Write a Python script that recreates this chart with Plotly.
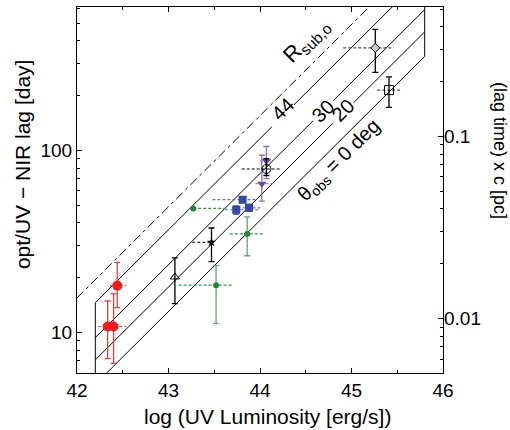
import plotly.graph_objects as go
import numpy as np

# ---------------- data ----------------
# model lines: endpoints (log L, lag in days)
model_x = [42.2, 45.8]
lag_44 = [14.6, 921.0]
lag_30 = [9.39, 592.0]
lag_20 = [7.08, 447.0]
lag_0 = [5.2, 328.0]
rsub_x = [42.0, 46.0]
lag_rsub = [15.5, 1550.0]

# observed points: x, y, y_upper, y_lower, x_low, x_high
red_x = [42.44, 42.335, 42.40]
red_y = [18.1, 10.8, 10.8]
red_up = [24.3, 14.9, 16.3]
red_lo = [13.7, 7.2, 6.77]
red_xlo = [42.36, 42.23, 42.30]
red_xhi = [42.54, 42.45, 42.54]

green_x = [43.27, 43.86, 43.52]
green_y = [48.0, 34.8, 18.2]
green_up = [48.0, 43.2, 23.3]
green_lo = [48.0, 26.4, 11.2]
green_xlo = [43.27, 43.67, 43.11]
green_xhi = [43.65, 44.04, 43.71]

tri_x = [43.07]
tri_y = [20.2]
tri_up = [25.7]
tri_lo = [14.4]

star_x = [43.47]
star_y = [31.3]
star_up = [37.5]
star_lo = [24.5]
star_xlo = [43.26]
star_xhi = [43.47]

blue_x = [43.81, 43.74, 43.88]
blue_y = [53.6, 47.2, 48.4]
blue_up = [55.5, 49.5, 50.5]
blue_lo = [51.5, 44.6, 46.3]
blue_xlo = [43.48, 43.62, 43.70]
blue_xhi = [43.97, 43.99, 44.00]

purple_x = [44.07, 44.02]
purple_y = [87.3, 65.6]
purple_up = [105.0, 94.0]
purple_lo = [70.0, 52.6]
purple_xlo = [44.00, 43.95]
purple_xhi = [44.12, 44.14]

circ_x = [44.07]
circ_y = [79.0]
circ_up = [90.0]
circ_lo = [72.8]
circ_xlo = [43.80]
circ_xhi = [44.24]

diam_x = [45.26]
diam_y = [365.0]
diam_up = [461.0]
diam_lo = [268.0]
diam_xlo = [44.91]
diam_xhi = [45.46]

sq_x = [45.41]
sq_y = [214.0]
sq_up = [253.0]
sq_lo = [172.0]
sq_xlo = [45.28]
sq_xhi = [45.55]

x_ticks = [42, 43, 44, 45, 46]
y_ticks = [10, 100]
pc_ticks = [0.01, 0.1]
DAY_TO_PC = 8.39e-4

# labels on the model lines
label_text = ["R<sub>sub,o</sub>", "44", "30", "20", "θ<sub>obs</sub> = 0 deg"]
label_x = [44.51, 44.25, 44.69, 44.91, 44.87]
label_logy = [2.60, 2.225, 2.215, 2.22, 1.945]
label_size = [22, 20, 20, 20, 20]
# half-width (in log L) of the line gap left around the angle labels
gap_half = [0.12, 0.11, 0.11]

FONT = "Liberation Sans, Arial, Helvetica, sans-serif"

fig = go.Figure()


def line_trace(xs, ys, dash="solid"):
    fig.add_trace(go.Scatter(x=xs, y=ys, mode="lines",
                             line=dict(color="black", width=1, dash=dash),
                             showlegend=False, hoverinfo="skip"))


def lag_at(xv, ends):
    # position on a straight model line in log-log space
    f = (xv - model_x[0]) / (model_x[1] - model_x[0])
    return ends[0] * (ends[1] / ends[0]) ** f


# R_sub,o dash-dot line
line_trace(rsub_x, lag_rsub, dash="9px,4px,3px,4px")
# 0 deg line (continuous)
line_trace(model_x, lag_0)
# left / right closing edges
line_trace([model_x[0], model_x[0]], [lag_0[0], lag_44[0]])
line_trace([model_x[1], model_x[1]], [lag_0[1], lag_44[1]])
# inclined-angle lines with a gap at their label
for ends, lx, g in zip((lag_44, lag_30, lag_20), label_x[1:4], gap_half):
    a, b = lx - g, lx + g
    xs = [model_x[0], a, None, b, model_x[1]]
    ys = [ends[0], lag_at(a, ends), None, lag_at(b, ends), ends[1]]
    line_trace(xs, ys)


def xerr_lines(xlo, xhi, y, color):
    xs, ys = [], []
    for a, b, c in zip(xlo, xhi, y):
        xs += [a, b, None]
        ys += [c, c, None]
    fig.add_trace(go.Scatter(x=xs, y=ys, mode="lines",
                             line=dict(color=color, width=1.2, dash="3px,2px"),
                             showlegend=False, hoverinfo="skip"))


def group(x, y, up, lo, marker, barcolor, xlo=None, xhi=None, xcolor=None):
    if xlo is not None:
        xerr_lines(xlo, xhi, y, xcolor or barcolor)
    plus = [u - v for u, v in zip(up, y)]
    minus = [v - l for v, l in zip(y, lo)]
    fig.add_trace(go.Scatter(
        x=x, y=y, mode="markers", marker=marker,
        error_y=dict(type="data", symmetric=False, array=plus, arrayminus=minus,
                     color=barcolor, thickness=1.3, width=3),
        showlegend=False))


group(red_x, red_y, red_up, red_lo,
      dict(symbol="circle", size=10, color="#f01c1c"), "#f03a3a",
      red_xlo, red_xhi, "#f04a4a")
group(green_x, green_y, green_up, green_lo,
      dict(symbol="circle", size=6, color="#23843a"), "#5fa870",
      green_xlo, green_xhi, "#2a9a40")
group(tri_x, tri_y, tri_up, tri_lo,
      dict(symbol="triangle-up-open", size=8, color="black", line=dict(width=1)), "black")
group(star_x, star_y, star_up, star_lo,
      dict(symbol="star", size=7, color="black"), "black",
      star_xlo, star_xhi, "#333333")
group(blue_x, blue_y, blue_up, blue_lo,
      dict(symbol="square", size=8, color="#3548a8"), "#5060b8",
      blue_xlo, blue_xhi, "#6070d0")
group(purple_x, purple_y, purple_up, purple_lo,
      dict(symbol="triangle-down", size=8, color="#6a48a8"), "#8a70c0",
      purple_xlo, purple_xhi, "#9a80d0")
group(circ_x, circ_y, circ_up, circ_lo,
      dict(symbol="circle-open", size=9, color="black", line=dict(width=1)), "black",
      circ_xlo, circ_xhi, "black")
group(diam_x, diam_y, diam_up, diam_lo,
      dict(symbol="diamond", size=7, color="#c8c8c8", line=dict(width=1, color="black")), "black",
      diam_xlo, diam_xhi, "#555555")
group(sq_x, sq_y, sq_up, sq_lo,
      dict(symbol="square-open", size=9, color="black", line=dict(width=1)), "black",
      sq_xlo, sq_xhi, "#555555")

# dummy trace for secondary axis
fig.add_trace(go.Scatter(x=[44], y=[0.05], yaxis="y2", mode="markers",
                         marker=dict(opacity=0), showlegend=False, hoverinfo="skip"))

y_lo_lim, y_hi_lim = np.log10(6.0), np.log10(612.0)
minor_y = [m * 10 ** e for e in (0, 1, 2) for m in range(2, 10)]
minor_pc = [m * 10 ** e for e in (-3, -2, -1) for m in range(2, 10)]

fig.update_layout(
    width=510, height=430,
    margin=dict(l=77, r=67, t=7, b=57),
    paper_bgcolor="white", plot_bgcolor="white",
    font=dict(family=FONT, size=19, color="black"),
    xaxis=dict(range=[42, 46], tickvals=x_ticks, ticks="inside", ticklen=5,
               tickcolor="black", showline=True, linecolor="black", linewidth=1,
               mirror="ticks", showgrid=False, zeroline=False, automargin=False,
               minor=dict(tickvals=[42.5, 43.5, 44.5, 45.5], ticks="inside",
                          ticklen=3, tickcolor="black", showgrid=False),
               tickfont=dict(size=19)),
    yaxis=dict(type="log", range=[y_lo_lim, y_hi_lim], tickvals=y_ticks,
               ticktext=["10", "100"], ticks="inside", ticklen=5, tickcolor="black",
               showline=True, linecolor="black", linewidth=1, mirror=True,
               showgrid=False, zeroline=False, automargin=False,
               minor=dict(tickvals=minor_y, ticks="inside", ticklen=3,
                          tickcolor="black", showgrid=False),
               tickfont=dict(size=19)),
    yaxis2=dict(type="log", overlaying="y", side="right",
                range=[y_lo_lim + np.log10(DAY_TO_PC), y_hi_lim + np.log10(DAY_TO_PC)],
                tickvals=pc_ticks, ticktext=["0.01", "0.1"], ticks="inside",
                ticklen=5, tickcolor="black", showline=False, showgrid=False,
                zeroline=False, automargin=False,
                minor=dict(tickvals=minor_pc, ticks="inside", ticklen=3,
                           tickcolor="black", showgrid=False),
                tickfont=dict(size=19)),
)

for t, lx, ly, s in zip(label_text, label_x, label_logy, label_size):
    fig.add_annotation(x=lx, y=ly, xref="x", yref="y", text=t, showarrow=False,
                       textangle=-44.8, font=dict(size=s, family=FONT, color="black"))

fig.add_annotation(x=0.52, y=-0.12, xref="paper", yref="paper",
                   text="log (UV Luminosity [erg/s])", showarrow=False,
                   font=dict(size=21), xanchor="center", yanchor="middle")
fig.add_annotation(x=-0.15, y=0.571, xref="paper", yref="paper",
                   text="opt/UV − NIR lag [day]", showarrow=False, textangle=-90,
                   font=dict(size=21), xanchor="center", yanchor="middle")
fig.add_annotation(x=1.156, y=0.609, xref="paper", yref="paper",
                   text="(lag time) x c [pc]", showarrow=False, textangle=90,
                   font=dict(size=18), xanchor="center", yanchor="middle")

fig.write_html("out.html", config={"displayModeBar": False},
               post_script="document.body.style.margin='0px';document.body.style.padding='0px';")
